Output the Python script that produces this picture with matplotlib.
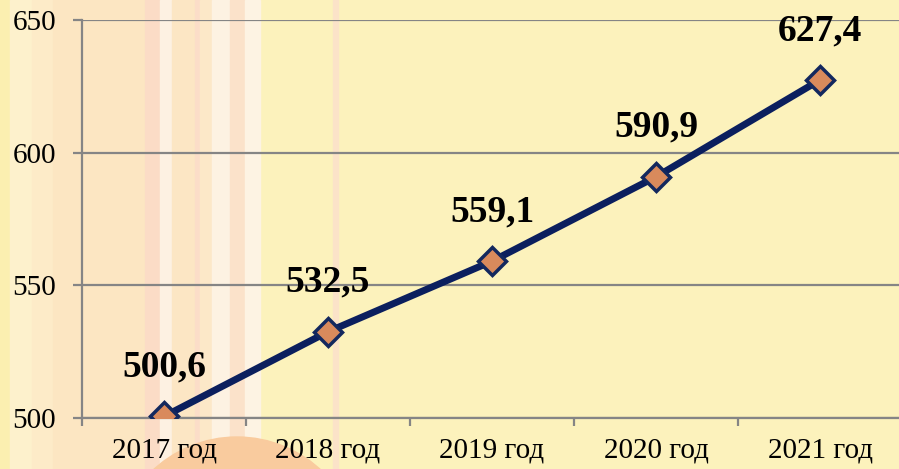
import matplotlib.pyplot as plt
from matplotlib.patches import Rectangle, Circle

years = ["2017 год", "2018 год", "2019 год", "2020 год", "2021 год"]
values = [500.6, 532.5, 559.1, 590.9, 627.4]
labels = ["500,6", "532,5", "559,1", "590,9", "627,4"]
yticks = [500, 550, 600, 650]

plt.rcParams['font.family'] = ['Liberation Serif', 'DejaVu Serif']

fig = plt.figure(figsize=(8.99, 4.69), dpi=100)

# фон
bg = fig.add_axes([0, 0, 1, 1])
bg.set_xlim(0, 899)
bg.set_ylim(469, 0)
bg.axis('off')
bg.add_patch(Rectangle((0, 0), 899, 469, color='#FCF2BC', zorder=0))
stripes = [
    (0, 10, '#FBEFB0'), (10, 32, '#FDF1CC'), (32, 53, '#FDEBC8'),
    (53, 145, '#FCE6C2'), (145, 160, '#FBDCC6'), (160, 172, '#FDF1E2'),
    (172, 195, '#FCE6C4'), (195, 200, '#FBDDC8'), (200, 212, '#FCE8C8'),
    (212, 230, '#FDF2E2'), (230, 245, '#FBE2CA'), (245, 260, '#FDF3E3'),
    (333, 338, '#FBE3C8'),
]
for x0, x1, c in stripes:
    bg.add_patch(Rectangle((x0, 0), x1 - x0, 469, color=c, zorder=1))
bg.add_patch(Circle((237, 560), 123, color='#F9CB9E', zorder=2))

ax = fig.add_axes([82 / 899, 51 / 469, 820 / 899, 398 / 469])
ax.patch.set_alpha(0)

x = list(range(len(years)))
ax.plot(x, values, color='#0B1F5E', linewidth=5, zorder=3,
        marker='D', markersize=14, markerfacecolor='#D98A5C',
        markeredgecolor='#13285E', markeredgewidth=2.5)

for xi, v, t in zip(x, values, labels):
    ax.annotate(t, (xi, v), xytext=(0, 23), textcoords='offset points',
                ha='center', va='bottom', fontsize=27, fontweight='bold')

ax.set_xlim(-0.5, 4.5)
ax.set_ylim(500, 650)
ax.set_yticks(yticks)
ax.set_xticks(x)
ax.set_xticklabels(years)
ax.set_xticks([i + 0.5 for i in range(-1, 5)], minor=True)
ax.grid(axis='y', color='#858585', linewidth=1.6, zorder=1)
ax.tick_params(axis='y', length=6.5, width=1.6, color='#858585', labelsize=21, pad=12)
ax.tick_params(axis='x', which='major', length=0, labelsize=21, pad=14)
ax.tick_params(axis='x', which='minor', length=6, width=1.6, color='#858585')
for s in ['top', 'right']:
    ax.spines[s].set_visible(False)
for s in ['left', 'bottom']:
    ax.spines[s].set_color('#858585')
    ax.spines[s].set_linewidth(1.6)

fig.savefig('out.png', dpi=100)
